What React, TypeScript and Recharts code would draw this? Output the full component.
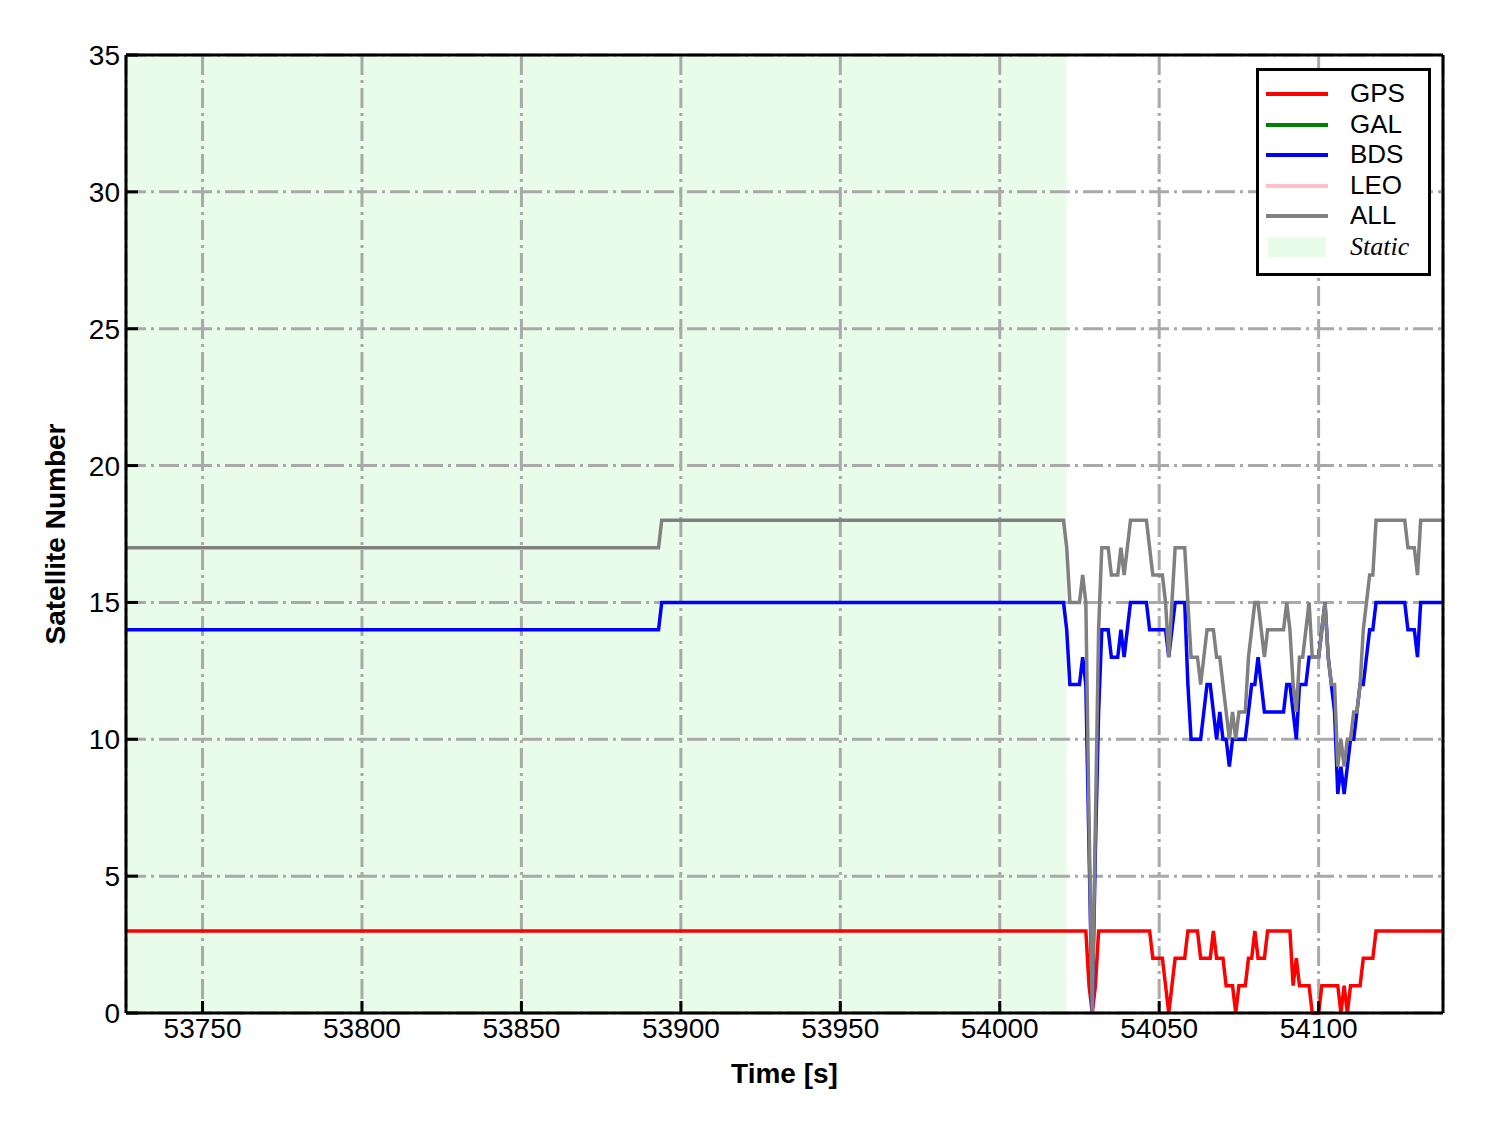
import React from 'react'
import {
  CartesianGrid,
  Legend,
  Line,
  LineChart,
  ReferenceArea,
  XAxis,
  YAxis,
} from 'recharts'

const FONT = '"Liberation Sans", Arial, Helvetica, sans-serif'

// flat part of the record (static period): only the break points
const STATIC_TIMES = [53726, 53893, 53894]
const STATIC_GPS = [3, 3, 3]
const STATIC_BDS = [14, 14, 15]
const STATIC_ALL = [17, 17, 18]

// kinematic part, one sample per second from 54020 s
const DYN_START = 54020
const DYN_GPS = [
  3, 3, 3, 3, 3, 3, 3, 3, 1, 0,
  1, 3, 3, 3, 3, 3, 3, 3, 3, 3,
  3, 3, 3, 3, 3, 3, 3, 3, 2, 2,
  2, 2, 1, 0, 1, 2, 2, 2, 2, 3,
  3, 3, 3, 2, 2, 2, 2, 3, 2, 2,
  2, 1, 1, 1, 0, 1, 1, 1, 2, 2,
  3, 2, 2, 2, 3, 3, 3, 3, 3, 3,
  3, 3, 1, 2, 1, 1, 1, 1, 0, 0,
  0, 1, 1, 1, 1, 1, 1, 0, 1, 0,
  1, 1, 1, 1, 2, 2, 2, 2, 3, 3,
  3, 3, 3, 3, 3, 3, 3, 3, 3, 3,
  3, 3, 3, 3, 3, 3, 3, 3, 3, 3,
]
const DYN_BDS = [
  15, 14, 12, 12, 12, 12, 13, 12, 6, 0,
  6, 11, 14, 14, 14, 13, 13, 13, 14, 13,
  14, 15, 15, 15, 15, 15, 15, 14, 14, 14,
  14, 14, 14, 13, 14, 15, 15, 15, 15, 12,
  10, 10, 10, 10, 11, 12, 12, 11, 10, 11,
  10, 10, 9, 10, 10, 10, 10, 10, 11, 12,
  12, 13, 12, 11, 11, 11, 11, 11, 11, 11,
  12, 12, 11, 10, 12, 12, 12, 13, 13, 13,
  13, 14, 15, 13, 12, 11, 8, 9, 8, 9,
  10, 10, 11, 12, 12, 13, 14, 14, 15, 15,
  15, 15, 15, 15, 15, 15, 15, 15, 14, 14,
  14, 13, 15, 15, 15, 15, 15, 15, 15, 15,
]
const DYN_ALL = [
  18, 17, 15, 15, 15, 15, 16, 15, 7, 0,
  7, 14, 17, 17, 17, 16, 16, 16, 17, 16,
  17, 18, 18, 18, 18, 18, 18, 17, 16, 16,
  16, 16, 15, 13, 15, 17, 17, 17, 17, 15,
  13, 13, 13, 12, 13, 14, 14, 14, 13, 13,
  12, 11, 10, 11, 10, 11, 11, 11, 13, 14,
  15, 15, 14, 13, 14, 14, 14, 14, 14, 14,
  15, 14, 12, 11, 13, 13, 14, 15, 13, 13,
  13, 14, 15, 13, 12, 12, 9, 10, 9, 10,
  10, 11, 11, 12, 14, 15, 16, 16, 18, 18,
  18, 18, 18, 18, 18, 18, 18, 18, 17, 17,
  17, 16, 18, 18, 18, 18, 18, 18, 18, 18,
]

const STATIC_FROM = 53726
const STATIC_TO = 54021
const X_DOMAIN: [number, number] = [53726, 54139]
const X_TICKS = [53750, 53800, 53850, 53900, 53950, 54000, 54050, 54100]
const Y_TICKS = [0, 5, 10, 15, 20, 25, 30, 35]

const COLORS = {
  GPS: '#ff0000',
  GAL: '#008000',
  BDS: '#0000ff',
  LEO: '#ffc0cb',
  ALL: '#808080',
  Static: '#90ee90',
}

const data = [
  ...STATIC_TIMES.map((t, i) => ({
    t,
    GPS: STATIC_GPS[i],
    BDS: STATIC_BDS[i],
    ALL: STATIC_ALL[i],
  })),
  ...DYN_GPS.map((gps, i) => ({
    t: DYN_START + i,
    GPS: gps,
    BDS: DYN_BDS[i],
    ALL: DYN_ALL[i],
  })),
]

const LEGEND_ITEMS = ['GPS', 'GAL', 'BDS', 'LEO', 'ALL'] as const

function LegendBox() {
  return (
    <div
      style={{
        position: 'relative',
        width: 169,
        height: 202,
        border: '3px solid #000',
        background: '#fff',
        fontFamily: FONT,
        fontSize: 26,
        color: '#000',
      }}
    >
      {LEGEND_ITEMS.map((name, i) => (
        <div key={name}>
          <div
            style={{
              position: 'absolute',
              left: 7,
              top: 21 + i * 30.6,
              width: 62,
              height: 4,
              background: COLORS[name],
            }}
          />
          <div style={{ position: 'absolute', left: 91, top: 7 + i * 30.6, lineHeight: '30px' }}>
            {name}
          </div>
        </div>
      ))}
      <div
        style={{
          position: 'absolute',
          left: 9,
          top: 166,
          width: 58,
          height: 20,
          background: COLORS.Static,
          opacity: 0.2,
        }}
      />
      <div
        style={{
          position: 'absolute',
          left: 91,
          top: 161,
          lineHeight: '30px',
          fontFamily: '"Liberation Serif", "Times New Roman", serif',
          fontStyle: 'italic',
        }}
      >
        Static
      </div>
    </div>
  )
}

export default function App() {
  const tickStyle = { fill: '#000', fontSize: 28, fontFamily: FONT }
  return (
    <div style={{ width: 1472, height: 1117, background: '#fff', fontFamily: FONT }}>
      <LineChart
        width={1472}
        height={1117}
        data={data}
        margin={{ top: 46, right: 36, left: 40, bottom: 42 }}
      >
        <ReferenceArea
          x1={STATIC_FROM}
          x2={STATIC_TO}
          y1={0}
          y2={35}
          fill={COLORS.Static}
          fillOpacity={0.2}
          stroke="none"
          zIndex={-150}
        />
        <CartesianGrid stroke="#a9a9a9" strokeWidth={3} strokeDasharray="20 5 3 5" />
        <XAxis
          dataKey="t"
          type="number"
          domain={X_DOMAIN}
          ticks={X_TICKS}
          allowDataOverflow
          height={70}
          tick={tickStyle}
          tickSize={-12}
          tickMargin={17}
          tickLine={{ stroke: '#000', strokeWidth: 3 }}
          axisLine={{ stroke: '#000', strokeWidth: 3 }}
          label={{
            value: 'Time [s]',
            position: 'insideBottom',
            offset: 0,
            style: { fontSize: 28, fontWeight: 700, fill: '#000', fontFamily: FONT },
          }}
        />
        <XAxis
          xAxisId="top"
          orientation="top"
          dataKey="t"
          type="number"
          domain={X_DOMAIN}
          height={1}
          tick={false}
          tickLine={false}
          axisLine={{ stroke: '#000', strokeWidth: 3 }}
        />
        <YAxis
          type="number"
          domain={[0, 35]}
          ticks={Y_TICKS}
          width={78}
          tick={tickStyle}
          tickSize={-12}
          tickMargin={18}
          tickLine={{ stroke: '#000', strokeWidth: 3 }}
          axisLine={{ stroke: '#000', strokeWidth: 3 }}
          label={{
            value: 'Satellite Number',
            angle: -90,
            position: 'insideLeft',
            offset: 7,
            style: {
              fontSize: 28,
              fontWeight: 700,
              fill: '#000',
              fontFamily: FONT,
              textAnchor: 'middle',
            },
          }}
        />
        <YAxis
          yAxisId="right"
          orientation="right"
          type="number"
          domain={[0, 35]}
          width={1}
          tick={false}
          tickLine={false}
          axisLine={{ stroke: '#000', strokeWidth: 3 }}
        />
        <Line
          dataKey="GPS"
          stroke={COLORS.GPS}
          strokeWidth={3.5}
          dot={false}
          type="linear"
          isAnimationActive={false}
        />
        <Line
          dataKey="BDS"
          stroke={COLORS.BDS}
          strokeWidth={3.5}
          dot={false}
          type="linear"
          isAnimationActive={false}
        />
        <Line
          dataKey="ALL"
          stroke={COLORS.ALL}
          strokeWidth={3.5}
          dot={false}
          type="linear"
          isAnimationActive={false}
        />
        <Legend
          layout="vertical"
          align="center"
          verticalAlign="middle"
          content={() => <LegendBox />}
          wrapperStyle={{ left: 1248, top: 60, width: 175, height: 208 }}
        />
      </LineChart>
    </div>
  )
}
